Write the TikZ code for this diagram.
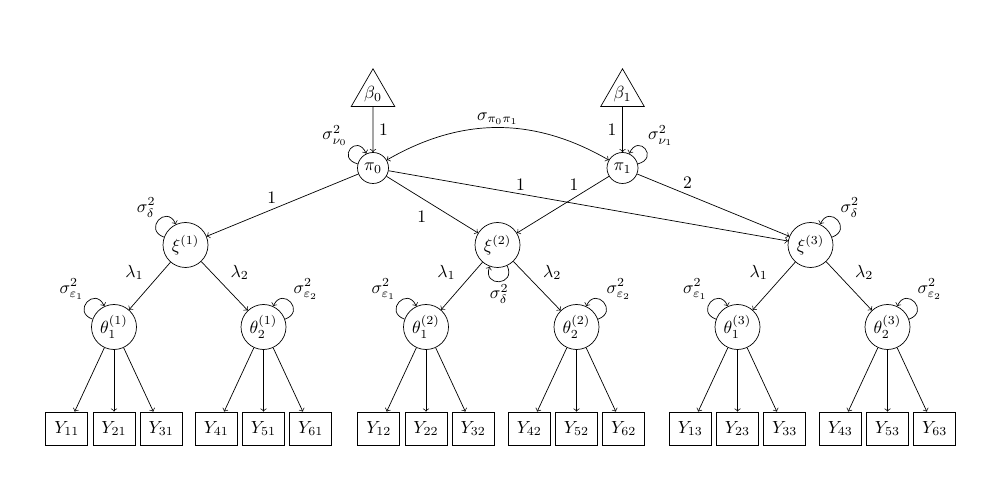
\documentclass[tikz,border=0pt]{standalone}
\usepackage{amsmath}
\usetikzlibrary{positioning,shapes.geometric}
\tikzset{
  lat/.style={draw, circle, inner sep=0pt, minimum size=0.9cm},
  latsm/.style={draw, circle, inner sep=0pt, minimum size=0.62cm},
  obs/.style={draw, rectangle, inner sep=0pt, minimum width=0.84cm, minimum height=0.66cm},
  cst/.style={draw, regular polygon, regular polygon sides=3, inner sep=0pt, minimum size=0.96cm},
  reg/.style={->},
  vloop/.style={->, loop},
  every loop/.style={looseness=1, min distance=4.5mm},
  lbl/.style={inner sep=1.5pt}
}
\begin{document}
\begin{tikzpicture}
  \useasboundingbox (0,0) rectangle (20.04,9.7);
  % constants and level-2 factors
  \node[cst] (b0) at (7.46,7.82) {$\beta_0$};
  \node[cst] (b1) at (12.45,7.82) {$\beta_1$};
  \node[latsm] (p0) at (7.46,6.34) {$\pi_0$};
  \node[latsm] (p1) at (12.45,6.34) {$\pi_1$};
  \draw[reg] (b0) -- node[right] {1} (p0);
  \draw[reg] (b1) -- node[left] {1} (p1);
  \draw[<->] (p0) to[bend left=30] node[above, lbl] {$\sigma_{\pi_0\pi_1}$} (p1);
  \path (p0) edge[out=165, in=115, vloop] node[above left, lbl] {$\sigma^2_{\nu_0}$} ();
  \path (p1) edge[out=15, in=65, vloop] node[above right, lbl] {$\sigma^2_{\nu_1}$} ();
  % occasions
  \node[lat] (x1) at (3.71,4.8) {$\xi^{(1)}$};
  \node[lat] (x2) at (9.95,4.8) {$\xi^{(2)}$};
  \node[lat] (x3) at (16.21,4.8) {$\xi^{(3)}$};
  \draw[reg] (p0) -- node[above, pos=0.57] {1} (x1);
  \draw[reg] (p0) -- node[below left] {1} (x2);
  \draw[reg] (p0) -- node[above, pos=0.33, lbl] {1} (x3);
  \draw[reg] (p1) -- node[above left, pos=0.3, lbl] {1} (x2);
  \draw[reg] (p1) -- node[above, pos=0.33] {2} (x3);
  \path (x1) edge[out=160, in=115, vloop] node[above left, lbl] {$\sigma^2_\delta$} ();
  \path (x2) edge[out=-65, in=-110, vloop] node[below, lbl] {$\sigma^2_\delta$} ();
  \path (x3) edge[out=20, in=65, vloop] node[above right, lbl] {$\sigma^2_\delta$} ();
  % facets and items
  \foreach \k/\xa/\xb in {1/2.28/5.27, 2/8.52/11.53, 3/14.75/17.75} {
    \node[lat] (t1\k) at (\xa,3.16) {$\theta^{(\k)}_1$};
    \node[lat] (t2\k) at (\xb,3.16) {$\theta^{(\k)}_2$};
    \draw[reg] (x\k) -- node[above left] {$\lambda_1$} (t1\k);
    \draw[reg] (x\k) -- node[above right] {$\lambda_2$} (t2\k);
    \path (t1\k) edge[out=160, in=115, vloop] node[above left, lbl] {$\sigma^2_{\varepsilon_1}$} ();
    \path (t2\k) edge[out=20, in=65, vloop] node[above right, lbl] {$\sigma^2_{\varepsilon_2}$} ();
    \node[obs] (y2\k) at (\xa,1.13) {$Y_{2\k}$};
    \node[obs, left=0.09cm of y2\k] (y1\k) {$Y_{1\k}$};
    \node[obs, right=0.09cm of y2\k] (y3\k) {$Y_{3\k}$};
    \node[obs] (y5\k) at (\xb,1.13) {$Y_{5\k}$};
    \node[obs, left=0.09cm of y5\k] (y4\k) {$Y_{4\k}$};
    \node[obs, right=0.09cm of y5\k] (y6\k) {$Y_{6\k}$};
    \foreach \i in {1,2,3} \draw[reg] (t1\k) -- (y\i\k);
    \foreach \i in {4,5,6} \draw[reg] (t2\k) -- (y\i\k);
  }
\end{tikzpicture}
\end{document}
